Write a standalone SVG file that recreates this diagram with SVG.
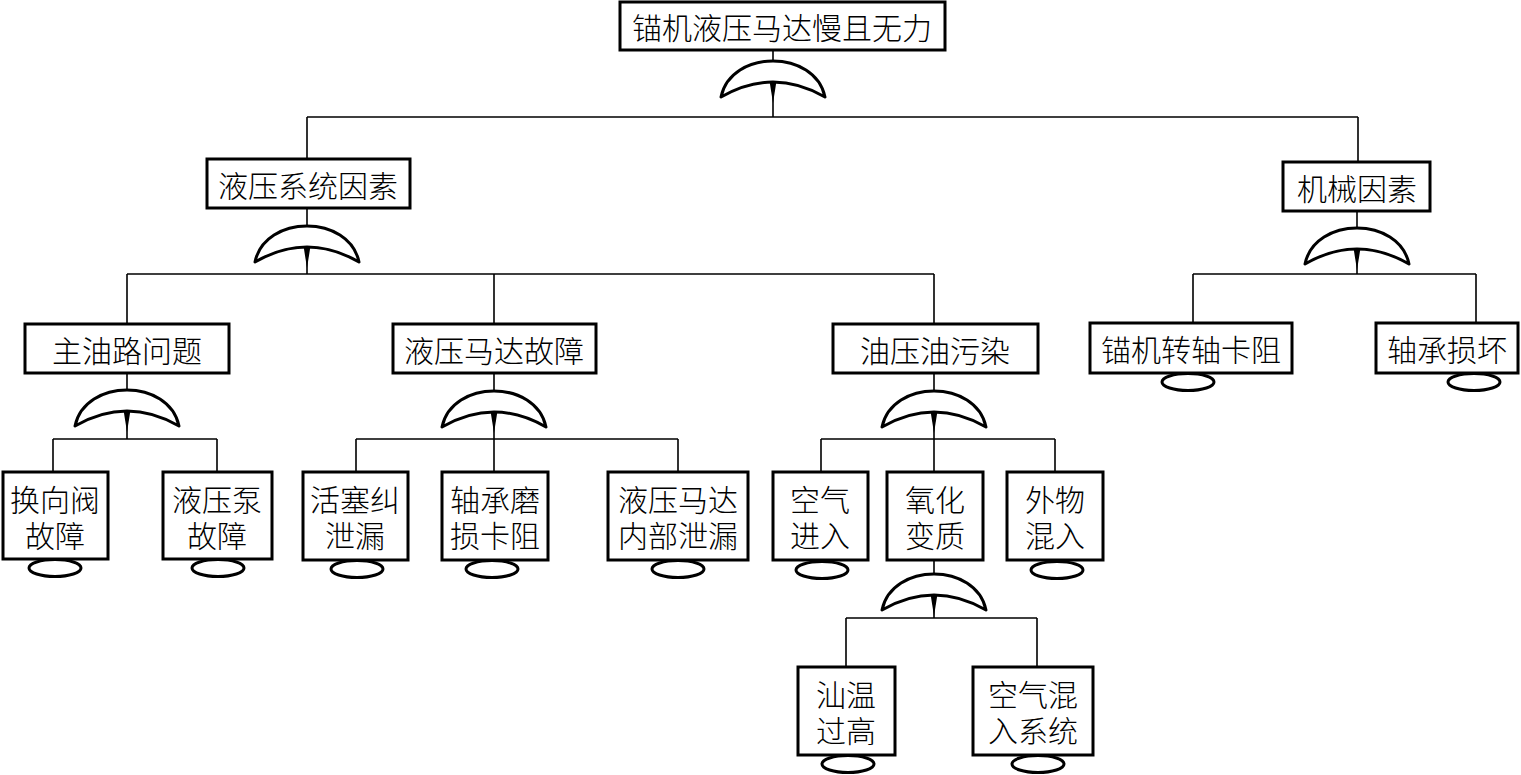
<svg xmlns="http://www.w3.org/2000/svg" xmlns:xlink="http://www.w3.org/1999/xlink" width="1521" height="775" viewBox="0 0 1521 775">
<style>
.box{fill:#fff;stroke:#000;stroke-width:3}
.ev{fill:none;stroke:#000;stroke-width:3}
.ln{fill:none;stroke:#000;stroke-width:1.6}
.gt{fill:#fff;stroke:#000;stroke-width:3;stroke-linejoin:round}
.ah{fill:#000;stroke:none}
text{font-family:"Noto Sans CJK SC","Liberation Serif",serif;font-size:30px;font-weight:300;fill:#000;text-anchor:middle;dominant-baseline:central}
</style>
<defs>
<g id="gate">
<path class="gt" d="M -52,36 C -42,-12 42,-12 52,36 Q 0,6 -52,36 Z"/>
<polygon class="ah" points="-3.5,20 3.5,20 0,42"/>
</g>
</defs>
<rect width="1521" height="775" fill="#fff"/>
<g id="connectors">
<path class="ln" d="M773,50 V117 M307,117 H1358 M307,117 V159 M1358,117 V162"/>
<path class="ln" d="M307,208 V274 M127,274 H934 M127,274 V324 M494,274 V324 M934,274 V324"/>
<path class="ln" d="M1357,211 V274 M1193,274 H1476 M1193,274 V323 M1476,274 V323"/>
<path class="ln" d="M127,373 V439 M53,439 H217 M53,439 V472 M217,439 V472"/>
<path class="ln" d="M494,373 V439 M356,439 H678 M356,439 V472 M494,439 V472 M678,439 V472"/>
<path class="ln" d="M934,373 V439 M821,439 H1055 M821,439 V472 M934,439 V472 M1055,439 V472"/>
<path class="ln" d="M934,560 V618 M846,618 H1037 M846,618 V667 M1037,618 V667"/>
</g>
<g id="gates">
<use xlink:href="#gate" transform="translate(773,61)"/>
<use xlink:href="#gate" transform="translate(307,226)"/>
<use xlink:href="#gate" transform="translate(1357,228)"/>
<use xlink:href="#gate" transform="translate(127,390)"/>
<use xlink:href="#gate" transform="translate(494,391)"/>
<use xlink:href="#gate" transform="translate(934,391)"/>
<use xlink:href="#gate" transform="translate(934,574)"/>
</g>
<g id="n-top"><rect class="box" x="620" y="2" width="325" height="48"/><text x="782" y="26">锚机液压马达慢且无力</text></g>
<g id="n-hyd"><rect class="box" x="207" y="159" width="203" height="49"/><text x="308" y="184">液压系统因素</text></g>
<g id="n-mech"><rect class="box" x="1283" y="162" width="147" height="49"/><text x="1357" y="187">机械因素</text></g>
<g id="n-main"><rect class="box" x="25" y="324" width="204" height="49"/><text x="127" y="349">主油路问题</text></g>
<g id="n-motor"><rect class="box" x="393" y="324" width="203" height="49"/><text x="494" y="349">液压马达故障</text></g>
<g id="n-oil"><rect class="box" x="833" y="324" width="205" height="49"/><text x="935" y="349">油压油污染</text></g>
<g id="n-shaft"><rect class="box" x="1090" y="323" width="202" height="50"/><text x="1191" y="348">锚机转轴卡阻</text><ellipse class="ev" cx="1188" cy="382" rx="26" ry="8.5"/></g>
<g id="n-bearing"><rect class="box" x="1376" y="323" width="142" height="50"/><text x="1447" y="348">轴承损坏</text><ellipse class="ev" cx="1474" cy="382" rx="26" ry="8.5"/></g>
<g id="n-valve"><rect class="box" x="3" y="472" width="105" height="87"/><text x="55" y="498">换向阀<tspan x="55" dy="36">故障</tspan></text><ellipse class="ev" cx="55" cy="568" rx="26" ry="8.5"/></g>
<g id="n-pump"><rect class="box" x="163" y="472" width="109" height="87"/><text x="217" y="498">液压泵<tspan x="217" dy="36">故障</tspan></text><ellipse class="ev" cx="218" cy="568" rx="26" ry="8.5"/></g>
<g id="n-piston"><rect class="box" x="303" y="472" width="105" height="88"/><text x="355" y="498">活塞纠<tspan x="355" dy="36">泄漏</tspan></text><ellipse class="ev" cx="357" cy="569" rx="26" ry="8.5"/></g>
<g id="n-bwear"><rect class="box" x="442" y="472" width="106" height="88"/><text x="495" y="498">轴承磨<tspan x="495" dy="36">损卡阻</tspan></text><ellipse class="ev" cx="492" cy="569" rx="26" ry="8.5"/></g>
<g id="n-inleak"><rect class="box" x="608" y="472" width="140" height="88"/><text x="678" y="498">液压马达<tspan x="678" dy="36">内部泄漏</tspan></text><ellipse class="ev" cx="678" cy="569" rx="26" ry="8.5"/></g>
<g id="n-air"><rect class="box" x="773" y="472" width="95" height="88"/><text x="820" y="498">空气<tspan x="820" dy="36">进入</tspan></text><ellipse class="ev" cx="822" cy="570" rx="26" ry="8.5"/></g>
<g id="n-oxid"><rect class="box" x="887" y="472" width="96" height="88"/><text x="935" y="498">氧化<tspan x="935" dy="36">变质</tspan></text></g>
<g id="n-foreign"><rect class="box" x="1007" y="472" width="96" height="88"/><text x="1055" y="498">外物<tspan x="1055" dy="36">混入</tspan></text><ellipse class="ev" cx="1057" cy="570" rx="26" ry="8.5"/></g>
<g id="n-temp"><rect class="box" x="798" y="667" width="97" height="88"/><text x="846" y="693">汕温<tspan x="846" dy="36">过高</tspan></text><ellipse class="ev" cx="848" cy="764" rx="26" ry="8.5"/></g>
<g id="n-airsys"><rect class="box" x="973" y="667" width="120" height="88"/><text x="1033" y="693">空气混<tspan x="1033" dy="36">入系统</tspan></text><ellipse class="ev" cx="1038" cy="764" rx="26" ry="8.5"/></g>
</svg>
